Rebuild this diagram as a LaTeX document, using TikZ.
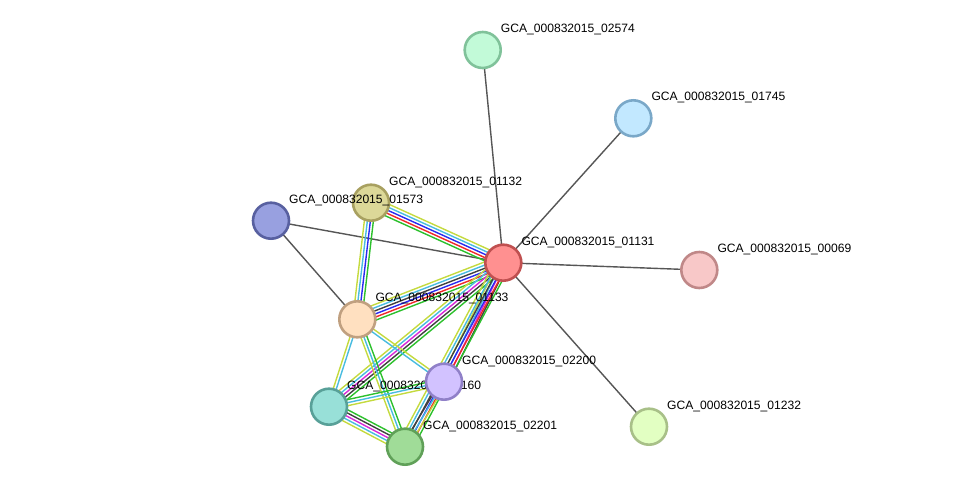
\documentclass[tikz,border=0pt]{standalone}
\usepackage{fontspec}
\setmainfont{Liberation Sans}
\usetikzlibrary{calc}

\definecolor{linkgray}{HTML}{565656}
\definecolor{ygline}{HTML}{C4DA3E}
\definecolor{cyanline}{HTML}{48BCE0}
\definecolor{blueline}{HTML}{2A2AF0}
\definecolor{redline}{HTML}{F02828}
\definecolor{greenline}{HTML}{2CC02C}
\definecolor{magline}{HTML}{D828D8}
\definecolor{darkline}{HTML}{404040}

\pgfdeclarelayer{edges}
\pgfsetlayers{edges,main}

% protein: name, position, fill, border, label
\newcommand{\protein}[5]{%
  \definecolor{#1fill}{HTML}{#3}\definecolor{#1ring}{HTML}{#4}%
  \node[prot, fill=#1fill, draw=#1ring] (#1) at (#2) {};
  \node[lbl] at ([shift={(18,-17.5)}]#1.center) {#5};}

% bundle of coloured evidence lines between two proteins
\newcommand{\bundle}[3]{%
  \foreach \col [count=\k] in {#3} {\xdef\nlines{\k}}%
  \foreach \col [count=\k] in {#3} {
    \pgfmathsetmacro{\off}{(\k-(\nlines+1)/2)*3}
    \draw[strand, \col] ($(#1)!\off pt!90:(#2)$) -- ($(#2)!\off pt!-90:(#1)$);
  }}

\begin{document}
\begin{tikzpicture}[x=1pt, y=-1pt,
  prot/.style={circle, line width=2.6pt, minimum size=36pt, inner sep=0pt},
  lbl/.style={anchor=base west, inner sep=0pt, font=\fontsize{12.1}{14}\selectfont},
  link/.style={line width=1.4pt, draw=linkgray},
  strand/.style={line width=1.4pt}]
\useasboundingbox (0,0) rectangle (975,492);

% Proteins
\protein{p02574}{482.7,50}{C2FAD8}{80C29A}{GCA\_000832015\_02574}
\protein{p01745}{633.3,118.3}{C2E8FF}{7AA8C8}{GCA\_000832015\_01745}
\protein{p00069}{699.3,270}{F8C8C8}{C08888}{GCA\_000832015\_00069}
\protein{p01232}{649,426.7}{E2FFC2}{A8C088}{GCA\_000832015\_01232}
\protein{p01132}{371,202.7}{DCD898}{A8A060}{GCA\_000832015\_01132}
\protein{p01573}{271,220.7}{98A0E0}{5860A0}{GCA\_000832015\_01573}
\protein{p01131}{503.3,262.7}{FF9090}{C05050}{GCA\_000832015\_01131}
\protein{p01133}{357.3,319.3}{FFE0C0}{C0A080}{GCA\_000832015\_01133}
\protein{p02160}{329,406.7}{98E0D8}{58A098}{GCA\_000832015\_02160}
\protein{p02200}{444,381.7}{D2C2FF}{9080C8}{GCA\_000832015\_02200}
\protein{p02201}{405,446.7}{A0DC98}{60A058}{GCA\_000832015\_02201}

% Links (behind the proteins)
\begin{pgfonlayer}{edges}
\foreach \other in {p02574,p01745,p00069,p01232,p01573}
  \draw[link] (p01131.center) -- (\other.center);
\draw[link] (p01573.center) -- (p01133.center);

\bundle{p01132}{p01131}{greenline,redline,blueline,cyanline,ygline}
\bundle{p01133}{p01132}{greenline,blueline,cyanline,ygline}
\bundle{p01133}{p01131}{greenline,redline,blueline,darkline,cyanline,ygline}
\bundle{p02160}{p01131}{greenline,darkline,magline,cyanline,ygline}
\bundle{p02200}{p01131}{darkline,magline,cyanline,ygline}
\bundle{p02201}{p01131}{greenline,redline,blueline,darkline,cyanline,ygline}
\bundle{p02200}{p02201}{darkline,cyanline,ygline}
\bundle{p01133}{p02200}{cyanline,ygline}
\bundle{p02160}{p01133}{cyanline,ygline}
\bundle{p02201}{p01133}{greenline,cyanline,ygline}
\bundle{p02200}{p02160}{greenline,cyanline,ygline}
\bundle{p02201}{p02160}{greenline,darkline,magline,cyanline,ygline}
\end{pgfonlayer}

\end{tikzpicture}
\end{document}
